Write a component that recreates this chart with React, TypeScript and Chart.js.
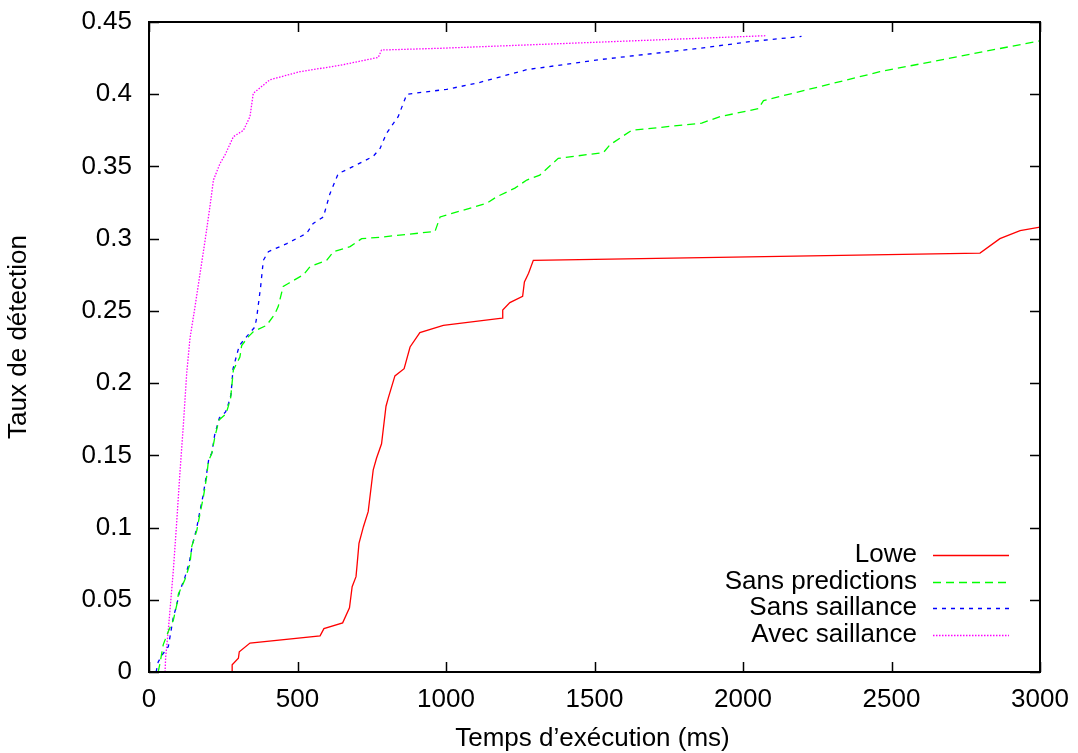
import React, { useEffect, useRef } from "react";
import { Chart, registerables } from "chart.js";

Chart.register(...registerables);

// ---- data ----
const xTickValues = [0, 500, 1000, 1500, 2000, 2500, 3000];
const xTickLabels = ["0", "500", "1000", "1500", "2000", "2500", "3000"];
const yTickValues = [0, 0.05, 0.1, 0.15, 0.2, 0.25, 0.3, 0.35, 0.4, 0.45];
const yTickLabels = ["0", "0.05", "0.1", "0.15", "0.2", "0.25", "0.3", "0.35", "0.4", "0.45"];

const seriesNames = ["Lowe", "Sans predictions", "Sans saillance", "Avec saillance"];

const loweX = [280, 280, 301, 304, 340, 576, 589, 652, 675, 684, 697, 701, 707, 722, 738, 755, 766, 783, 798, 806, 828, 859, 879, 912, 991, 1189, 1191, 1215, 1258, 1264, 1278, 1294, 2798, 2865, 2933, 3000];
const loweY = [0, 0.005, 0.0095, 0.014, 0.02, 0.025, 0.03, 0.034, 0.0445, 0.059, 0.066, 0.075, 0.089, 0.1006, 0.111, 0.14, 0.148, 0.158, 0.184, 0.19, 0.205, 0.21, 0.225, 0.235, 0.24, 0.245, 0.2506, 0.2557, 0.26, 0.27, 0.276, 0.285, 0.29, 0.3, 0.3055, 0.308];

const sansPredX = [31, 37, 48, 65, 82, 93, 99, 121, 138, 144, 161, 172, 183, 194, 200, 211, 222, 236, 259, 267, 275, 284, 306, 312, 334, 351, 396, 424, 435, 452, 469, 520, 542, 598, 621, 677, 716, 778, 963, 980, 1137, 1171, 1232, 1272, 1316, 1378, 1530, 1552, 1625, 1861, 1923, 2052, 2069, 2461, 3000];
const sansPredY = [0, 0.006, 0.019, 0.028, 0.036, 0.046, 0.054, 0.064, 0.075, 0.087, 0.098, 0.11, 0.121, 0.135, 0.146, 0.151, 0.163, 0.1745, 0.1786, 0.184, 0.19, 0.209, 0.218, 0.226, 0.232, 0.2356, 0.24, 0.248, 0.253, 0.267, 0.269, 0.275, 0.2806, 0.285, 0.291, 0.2945, 0.3, 0.301, 0.305, 0.315, 0.3245, 0.329, 0.335, 0.3406, 0.344, 0.3556, 0.3596, 0.365, 0.375, 0.38, 0.3845, 0.39, 0.3956, 0.4156, 0.437];

const sansSailX = [24, 31, 45, 65, 82, 93, 102, 120, 136, 146, 160, 171, 182, 193, 201, 212, 221, 237, 258, 268, 276, 283, 304, 328, 357, 363, 376, 385, 402, 464, 531, 553, 587, 609, 637, 688, 755, 778, 800, 839, 868, 1002, 1103, 1272, 1519, 1855, 2024, 2197];
const sansSailY = [0, 0.007, 0.012, 0.0175, 0.038, 0.046, 0.055, 0.065, 0.076, 0.088, 0.099, 0.111, 0.122, 0.136, 0.147, 0.152, 0.164, 0.176, 0.18, 0.186, 0.192, 0.21, 0.226, 0.232, 0.239, 0.246, 0.267, 0.285, 0.291, 0.2966, 0.3037, 0.3106, 0.315, 0.331, 0.345, 0.35, 0.357, 0.3625, 0.373, 0.3845, 0.4, 0.4034, 0.4076, 0.417, 0.424, 0.4318, 0.4364, 0.44];

const avecSailX = [54, 56, 65, 82, 93, 104, 116, 127, 138, 155, 172, 189, 205, 217, 239, 256, 284, 318, 340, 351, 407, 508, 643, 772, 783, 980, 2075];
const avecSailY = [0, 0.01, 0.029, 0.0706, 0.103, 0.1375, 0.172, 0.207, 0.231, 0.253, 0.276, 0.299, 0.322, 0.3406, 0.352, 0.358, 0.3706, 0.375, 0.3845, 0.4006, 0.41, 0.4156, 0.42, 0.4255, 0.4306, 0.4318, 0.4405];

const xTitle = "Temps d\u2019exécution (ms)";
const yTitle = "Taux de détection";

// ---- styles ----
const FONT = "'Liberation Sans', Arial, Helvetica, sans-serif";
const FONT_SIZE = 26;
const colors = ["#ff0000", "#00ff00", "#0000ff", "#ff00ff"];
const dashes: number[][] = [[], [8, 5], [4, 5], [1.5, 1.5]];

const pts = (xs: number[], ys: number[]) => xs.map((x, i) => ({ x, y: ys[i] }));

const framePlugin = {
  id: "gnuplotFrame",
  afterDraw(chart: any) {
    const { ctx, chartArea } = chart;
    const { left, right, top, bottom } = chartArea;
    const xs = chart.scales.x;
    const ys = chart.scales.y;
    ctx.save();
    // ticks (inward, mirrored)
    ctx.strokeStyle = "#000";
    ctx.lineWidth = 1.5;
    ctx.setLineDash([]);
    const tl = 10;
    ctx.beginPath();
    xTickValues.forEach((v) => {
      const p = Math.round(xs.getPixelForValue(v)) + 0.5;
      ctx.moveTo(p, bottom);
      ctx.lineTo(p, bottom - tl);
      ctx.moveTo(p, top);
      ctx.lineTo(p, top + tl);
    });
    yTickValues.forEach((v) => {
      const p = Math.round(ys.getPixelForValue(v)) + 0.5;
      ctx.moveTo(left, p);
      ctx.lineTo(left + tl, p);
      ctx.moveTo(right, p);
      ctx.lineTo(right - tl, p);
    });
    ctx.stroke();
    // border
    ctx.lineWidth = 2;
    ctx.strokeRect(left, top, right - left, bottom - top);

    // legend
    ctx.font = `${FONT_SIZE}px ${FONT}`;
    ctx.fillStyle = "#000";
    ctx.textAlign = "right";
    ctx.textBaseline = "middle";
    const textRight = right - 123;
    const sx0 = right - 107;
    const sx1 = right - 31;
    const rowY0 = bottom - 117;
    const rowH = 26.5;
    seriesNames.forEach((name, i) => {
      const yy = rowY0 + i * rowH;
      ctx.fillText(name, textRight, yy);
      ctx.beginPath();
      ctx.strokeStyle = colors[i];
      ctx.lineWidth = 1.3;
      ctx.setLineDash(dashes[i]);
      ctx.moveTo(sx0, Math.round(yy) + 0.5);
      ctx.lineTo(sx1, Math.round(yy) + 0.5);
      ctx.stroke();
    });
    ctx.setLineDash([]);

    // axis titles
    ctx.fillStyle = "#000";
    ctx.textAlign = "center";
    ctx.textBaseline = "middle";
    ctx.fillText(xTitle, (left + right) / 2 - 2, bottom + 67);
    ctx.save();
    ctx.translate(19, (top + bottom) / 2 - 10);
    ctx.rotate(-Math.PI / 2);
    ctx.fillText(yTitle, 0, 0);
    ctx.restore();

    ctx.restore();
  },
};

export default function App() {
  const ref = useRef<HTMLCanvasElement | null>(null);
  useEffect(() => {
    if (!ref.current) return;
    const datasets = [
      pts(loweX, loweY),
      pts(sansPredX, sansPredY),
      pts(sansSailX, sansSailY),
      pts(avecSailX, avecSailY),
    ].map((data, i) => ({
      label: seriesNames[i],
      data,
      borderColor: colors[i],
      backgroundColor: colors[i],
      borderWidth: 1.3,
      borderDash: dashes[i],
      pointRadius: 0,
      tension: 0,
      fill: false,
    }));
    const chart = new Chart(ref.current, {
      type: "line",
      data: { datasets },
      options: {
        animation: false,
        responsive: false,
        parsing: false as any,
        layout: { padding: { left: 0, top: 22, right: 38, bottom: 0 } },
        plugins: { legend: { display: false }, tooltip: { enabled: false } },
        scales: {
          x: {
            type: "linear",
            min: 0,
            max: 3000,
            grid: { display: false, drawTicks: false },
            border: { display: false },
            afterBuildTicks: (s: any) => {
              s.ticks = xTickValues.map((v) => ({ value: v }));
            },
            afterFit: (s: any) => {
              s.height = 81;
              s.paddingLeft = 0;
              s.paddingRight = 0;
            },
            ticks: {
              color: "#000",
              font: { family: FONT, size: FONT_SIZE },
              padding: 12,
              maxRotation: 0,
              autoSkip: false,
              callback: (v: any) => {
                const i = xTickValues.indexOf(Number(v));
                return i >= 0 ? xTickLabels[i] : "";
              },
            },
          },
          y: {
            type: "linear",
            min: 0,
            max: 0.45,
            grid: { display: false, drawTicks: false },
            border: { display: false },
            afterBuildTicks: (s: any) => {
              s.ticks = yTickValues.map((v) => ({ value: v }));
            },
            afterFit: (s: any) => {
              s.width = 149;
              s.paddingTop = 0;
              s.paddingBottom = 0;
            },
            ticks: {
              color: "#000",
              font: { family: FONT, size: FONT_SIZE },
              padding: 17,
              autoSkip: false,
              callback: (v: any) => {
                const i = yTickValues.findIndex((t) => Math.abs(t - Number(v)) < 1e-9);
                return i >= 0 ? yTickLabels[i] : "";
              },
            },
          },
        },
      },
      plugins: [framePlugin],
    });
    return () => chart.destroy();
  }, []);
  return (
    <div style={{ position: "absolute", left: 0, top: 0, width: 1078, height: 753, background: "#fff" }}>
      <canvas ref={ref} width={1078} height={753} style={{ display: "block" }} />
    </div>
  );
}
